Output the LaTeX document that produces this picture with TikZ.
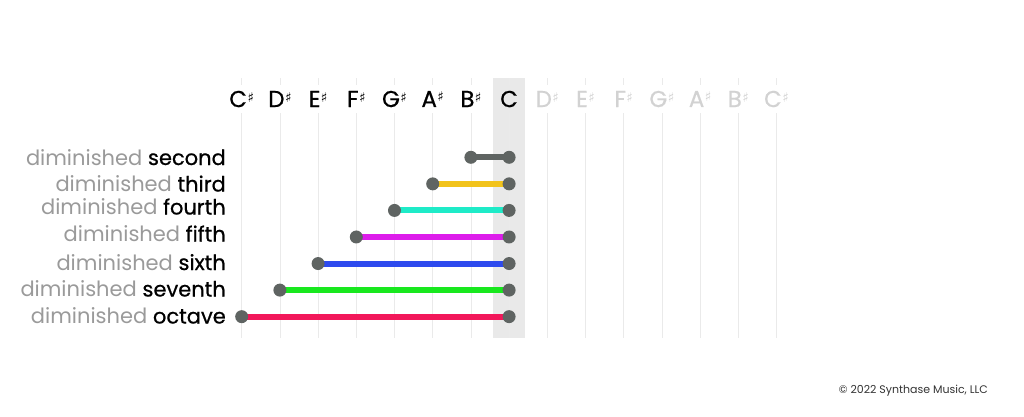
\documentclass[tikz,border=0pt]{standalone}
\usepackage{fontspec}
\setmainfont{Poppins}
\newfontface\medfont{Poppins}[FakeBold=0.6]
\newfontfamily\sharpfont{DejaVu Sans}

\definecolor{dotgrey}{HTML}{5F6462}
\definecolor{bandgrey}{HTML}{E9E9E9}
\definecolor{gridgrey}{HTML}{EAEAEA}
\definecolor{dimgrey}{HTML}{9A9A9A}
\definecolor{headgrey}{HTML}{D2D2D2}
\definecolor{dimsecond}{HTML}{5F6462}
\definecolor{dimthird}{HTML}{F2C31B}
\definecolor{dimfourth}{HTML}{1EEBC8}
\definecolor{dimfifth}{HTML}{DD1DEB}
\definecolor{dimsixth}{HTML}{2D4AEE}
\definecolor{dimseventh}{HTML}{18E81E}
\definecolor{dimoctave}{HTML}{F2175A}

\newcommand{\sh}{\hspace{0.5pt}\raisebox{5pt}{\sharpfont\fontsize{13.5}{13.5}\selectfont ♯}}

\begin{document}
\begin{tikzpicture}[x=1pt,y=-1pt,every node/.style={inner sep=0pt},
    notehead/.style={font=\medfont\fontsize{23}{23}\selectfont,minimum height=28pt,anchor=center},
    gridline/.style={draw=gridgrey,line width=0.8pt},
    dot/.style={circle,fill=dotgrey,minimum size=13pt},
    bar/.style={line width=6pt,draw=#1},
    intlabel/.style={font=\fontsize{21}{21}\selectfont,anchor=base east}]
\def\colleft{241.7}
\def\colwidth{38.2}
\def\rowtop{157.3}
\def\rowheight{26.56}
\def\gridtop{78}
\def\gridbottom{338}

\useasboundingbox (0,0) rectangle (1024,416);

% Band behind C
\fill[bandgrey] (493,\gridtop) rectangle (525,\gridbottom);

% Macro for note column
\newcommand{\notecolumn}[3]{
    \coordinate (top#1) at (\colleft+#1*\colwidth,\gridtop);
    \coordinate (bot#1) at (\colleft+#1*\colwidth,\gridbottom);
    \node[notehead,text=#3] (head#1) at (\colleft+#1*\colwidth,99) {#2};
    \draw[gridline] (top#1) -- (head#1);
    \draw[gridline] (head#1) -- (bot#1);
}

\notecolumn{0}{C\sh}{black}
\notecolumn{1}{D\sh}{black}
\notecolumn{2}{E\sh}{black}
\notecolumn{3}{F\sh}{black}
\notecolumn{4}{G\sh}{black}
\notecolumn{5}{A\sh}{black}
\notecolumn{6}{B\sh}{black}
\notecolumn{7}{C}{black}
\notecolumn{8}{D\sh}{headgrey}
\notecolumn{9}{E\sh}{headgrey}
\notecolumn{10}{F\sh}{headgrey}
\notecolumn{11}{G\sh}{headgrey}
\notecolumn{12}{A\sh}{headgrey}
\notecolumn{13}{B\sh}{headgrey}
\notecolumn{14}{C\sh}{headgrey}

% Macro for interval row
\newcommand{\interval}[5]{
    \coordinate (lo#4) at (\colleft+#2*\colwidth,\rowtop+#1*\rowheight);
    \coordinate (hi#4) at (\colleft+7*\colwidth,\rowtop+#1*\rowheight);
    \draw[bar=#3] (lo#4) -- (hi#4);
    \node[dot] (lodot#4) at (lo#4) {};
    \node[dot] (hidot#4) at (hi#4) {};
    \node[intlabel] (label#4) at (226,#5) {\textcolor{dimgrey}{diminished} {\medfont #4}};
}

\interval{0}{6}{dimsecond}{second}{165}
\interval{1}{5}{dimthird}{third}{191.5}
\interval{2}{4}{dimfourth}{fourth}{214.5}
\interval{3}{3}{dimfifth}{fifth}{241.5}
\interval{4}{2}{dimsixth}{sixth}{270}
\interval{5}{1}{dimseventh}{seventh}{296.5}
\interval{6}{0}{dimoctave}{octave}{323.5}

% Copyright
\node[anchor=base east,font=\fontsize{11}{11}\selectfont,text=black!80] (copyright) at (988,393) {© 2022 Synthase Music, LLC};

\end{tikzpicture}
\end{document}
